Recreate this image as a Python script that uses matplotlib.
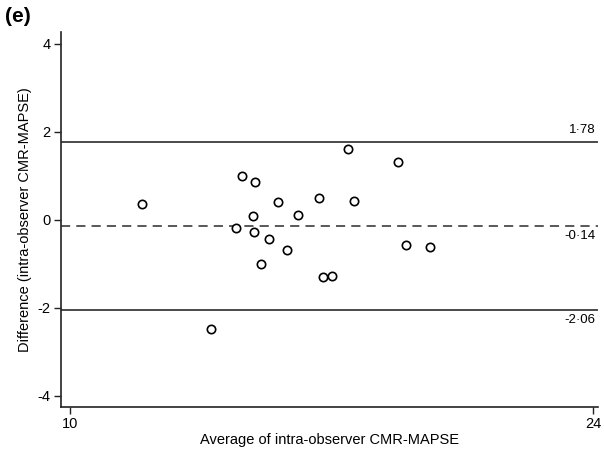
import matplotlib
matplotlib.use("Agg")
import matplotlib.pyplot as plt

plt.rcParams['font.family'] = ['Liberation Sans', 'DejaVu Sans']
plt.rcParams['axes.unicode_minus'] = False

avg = [11.92, 14.61, 14.94, 15.56, 16.66, 14.90, 16.11, 14.44, 14.92, 15.32,
       15.82, 15.12, 16.78, 17.02, 13.77, 17.44, 18.79, 17.61, 18.99, 19.64]
diff = [0.37, 0.99, 0.85, 0.40, 0.49, 0.09, 0.11, -0.19, -0.28, -0.43,
        -0.69, -1.01, -1.29, -1.27, -2.48, 1.60, 1.31, 0.43, -0.57, -0.62]

mean_diff = -0.14
upper_loa = 1.78
lower_loa = -2.06
x_ticks = [10, 24]
y_ticks = [-4, -2, 0, 2, 4]

fig = plt.figure(figsize=(6.04, 4.51), dpi=100)
ax = fig.add_axes([0.101, 0.098, 0.889, 0.831])

line_col = '#2b2b2b'
ax.axhline(upper_loa, color=line_col, lw=1.2)
ax.axhline(lower_loa, color=line_col, lw=1.2)
ax.axhline(mean_diff, color=line_col, lw=1.1, ls=(0, (6, 4)))

ax.plot(avg, diff, 'o', mfc='white', mec='black', mew=1.2, ms=6, zorder=3)

ax.set_xlim(9.76, 24.13)
ax.set_ylim(-4.25, 4.27)
ax.set_xticks(x_ticks)
ax.set_yticks(y_ticks)

for s in ['top', 'right']:
    ax.spines[s].set_visible(False)
for s in ['left', 'bottom']:
    ax.spines[s].set_linewidth(1.2)
    ax.spines[s].set_color('#222222')
ax.tick_params(direction='out', length=5, width=1, labelsize=10.5, color='#222222', pad=2.5)

tr = ax.get_yaxis_transform()
fmt = lambda v: f"{v:.2f}".replace('.', '\u00b7')
ax.text(0.995, upper_loa + 0.12, fmt(upper_loa), transform=tr, ha='right', va='bottom', fontsize=9.5)
ax.text(0.995, mean_diff - 0.08, fmt(mean_diff), transform=tr, ha='right', va='top', fontsize=9.5)
ax.text(0.995, lower_loa - 0.08, fmt(lower_loa), transform=tr, ha='right', va='top', fontsize=9.5)

ax.set_xlabel('Average of intra-observer CMR-MAPSE', fontsize=10.5, labelpad=1)
ax.set_ylabel('Difference (intra-observer CMR-MAPSE)', fontsize=10.5, labelpad=4)

fig.text(0.008, 0.985, '(e)', fontsize=15, fontweight='bold', va='top', ha='left')

fig.savefig('out.png', dpi=100)
